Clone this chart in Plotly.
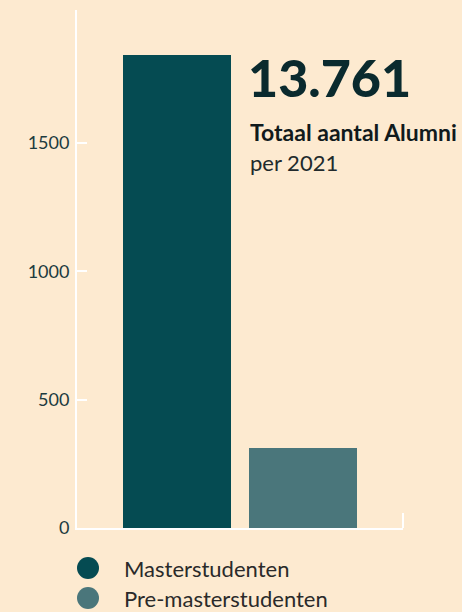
import plotly.graph_objects as go

# data
categories = ["Masterstudenten", "Pre-masterstudenten"]
values = [1843, 312]
bar_colors = ["#054b52", "#4a767b"]
tick_values = [0, 500, 1000, 1500]
total_label = "13.761"
subtitle = "Totaal aantal Alumni"
subtitle2 = "per 2021"

BG = "#fdead0"
W, H = 462, 612
L, R, T, B = 77, 59, 10, 84
pw, ph = W - L - R, H - T - B


def px_x(x):
    return (x - L) / pw


def px_y(y):
    return (H - B - y) / ph


fig = go.Figure()
fig.add_trace(go.Bar(
    x=[0, 1], y=values, width=0.855,
    marker=dict(color=bar_colors, line=dict(width=0)),
    showlegend=False, hoverinfo="skip",
))

fig.update_layout(
    width=W, height=H,
    margin=dict(l=L, r=R, t=T, b=B),
    paper_bgcolor=BG, plot_bgcolor=BG,
    font=dict(family="Lato", color="#1c3b3f"),
    bargap=0,
    xaxis=dict(range=[-0.79, 1.79], showgrid=False, zeroline=False,
               showline=True, linecolor="white", linewidth=2,
               showticklabels=False, ticks="", fixedrange=True),
    yaxis=dict(range=[0, 2018], showgrid=False, zeroline=False,
               showline=True, linecolor="white", linewidth=2,
               tickvals=tick_values, ticks="inside", ticklen=10,
               tickcolor="white", tickwidth=2,
               tickfont=dict(size=18, color="#1c3b3f", family="Lato"),
               ticklabelstandoff=2),
)

# small end tick on the x-axis
fig.add_shape(type="line", xref="x domain", yref="paper",
              x0=1, x1=1, y0=0, y1=px_y(513),
              line=dict(color="white", width=2))

# headline text
fig.add_annotation(text=total_label, xref="paper", yref="paper",
                   x=px_x(246), y=px_y(77), xanchor="left", yanchor="middle",
                   showarrow=False,
                   font=dict(size=52, color="#0a2a2e", family="Lato Black, Lato", weight=900))
fig.add_annotation(text="<b>" + subtitle + "</b>", xref="paper", yref="paper",
                   x=px_x(248), y=px_y(132), xanchor="left", yanchor="middle",
                   showarrow=False, font=dict(size=23, color="#111a1c", family="Lato"))
fig.add_annotation(text=subtitle2, xref="paper", yref="paper",
                   x=px_x(248), y=px_y(163), xanchor="left", yanchor="middle",
                   showarrow=False, font=dict(size=22, color="#222a2c", family="Lato"))

# legend drawn by hand (round markers)
legend_y = [568, 598]
for name, color, ly in zip(categories, bar_colors, legend_y):
    fig.add_shape(type="circle", xref="paper", yref="paper",
                  xsizemode="pixel", ysizemode="pixel",
                  xanchor=px_x(88), yanchor=px_y(ly),
                  x0=-11, x1=11, y0=-11, y1=11,
                  fillcolor=color, line=dict(width=0))
    fig.add_annotation(text=name, xref="paper", yref="paper",
                       x=px_x(122), y=px_y(ly), xanchor="left", yanchor="middle",
                       showarrow=False, font=dict(size=22, color="#2a2a2a", family="Lato"))

fig.write_html("out.html", config={"displayModeBar": False},
               post_script="document.body.style.margin='0';document.body.style.overflow='hidden';")
